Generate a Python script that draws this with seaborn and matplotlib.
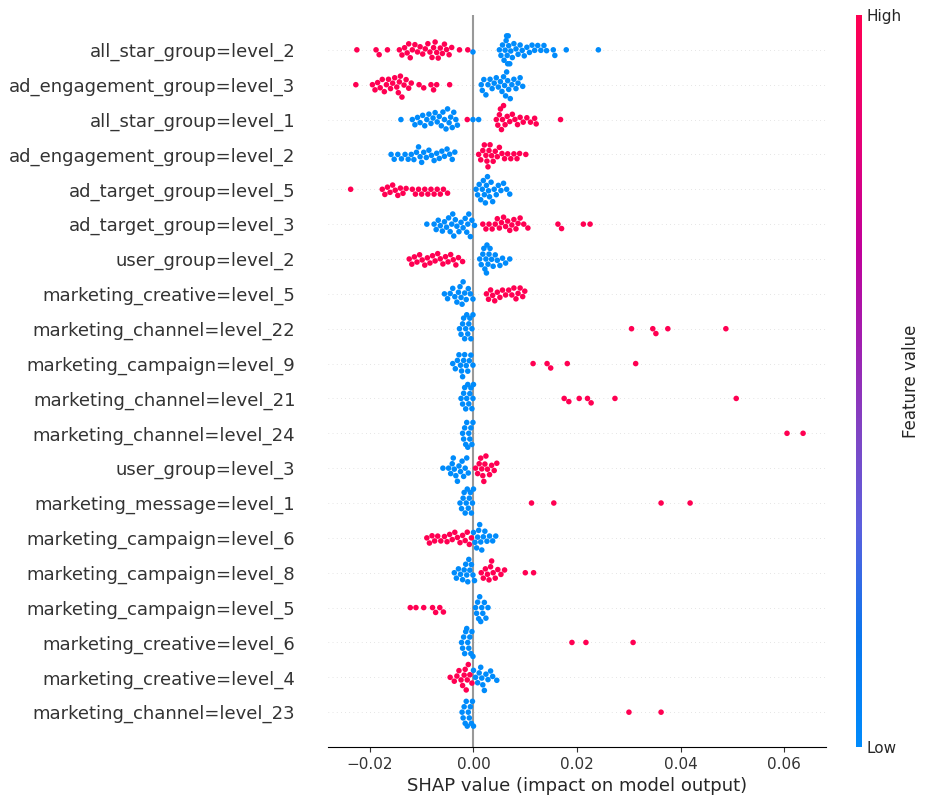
#!/usr/bin/env python3
"""SHAP-style beeswarm summary of one-hot feature impacts, drawn with seaborn."""

import matplotlib

matplotlib.use("Agg")

import matplotlib.pyplot as plt
import numpy as np
import pandas as pd
import seaborn as sns
from matplotlib.cm import ScalarMappable
from matplotlib.colors import LinearSegmentedColormap


BLUE = "#008bfb"
RED = "#ff0052"

FEATURES = [
    "all_star_group=level_2",
    "ad_engagement_group=level_3",
    "all_star_group=level_1",
    "ad_engagement_group=level_2",
    "ad_target_group=level_5",
    "ad_target_group=level_3",
    "user_group=level_2",
    "marketing_creative=level_5",
    "marketing_channel=level_22",
    "marketing_campaign=level_9",
    "marketing_channel=level_21",
    "marketing_channel=level_24",
    "user_group=level_3",
    "marketing_message=level_1",
    "marketing_campaign=level_6",
    "marketing_campaign=level_8",
    "marketing_campaign=level_5",
    "marketing_creative=level_6",
    "marketing_creative=level_4",
    "marketing_channel=level_23",
]

# SHAP values, split by feature value (high = 1, low = 0)
all_star_l2_high = [-0.0225, -0.0188, -0.0182, -0.0166, -0.0143, -0.0138, -0.0133, -0.0128,
                    -0.0125, -0.0122, -0.0118, -0.0113, -0.0108, -0.0103, -0.0098, -0.0093,
                    -0.0088, -0.0084, -0.0080, -0.0077, -0.0074, -0.0071, -0.0068, -0.0064,
                    -0.0060, -0.0056, -0.0052, -0.0047, -0.0042, -0.0027, -0.0011]
all_star_l2_low = [-0.0001, 0.0050, 0.0053, 0.0056, 0.0059, 0.0061, 0.0063, 0.0064, 0.0065,
                   0.0066, 0.0067, 0.0068, 0.0070, 0.0072, 0.0075, 0.0078, 0.0082, 0.0086,
                   0.0090, 0.0094, 0.0098, 0.0103, 0.0108, 0.0113, 0.0118, 0.0124, 0.0130,
                   0.0136, 0.0141, 0.0154, 0.0157, 0.0179, 0.0241]

ad_engage_l3_high = [-0.0227, -0.0195, -0.0190, -0.0185, -0.0180, -0.0176, -0.0172, -0.0168,
                     -0.0164, -0.0160, -0.0156, -0.0152, -0.0148, -0.0145, -0.0143, -0.0141,
                     -0.0138, -0.0134, -0.0130, -0.0125, -0.0120, -0.0105, -0.0096, -0.0082,
                     -0.0077, -0.0071, -0.0046]
ad_engage_l3_low = [0.0015, 0.0017, 0.0020, 0.0024, 0.0028, 0.0032, 0.0036, 0.0040, 0.0044,
                    0.0048, 0.0052, 0.0055, 0.0058, 0.0060, 0.0062, 0.0064, 0.0066, 0.0068,
                    0.0071, 0.0074, 0.0078, 0.0082, 0.0086, 0.0090, 0.0095]

all_star_l1_high = [-0.0012, 0.0044, 0.0047, 0.0050, 0.0052, 0.0054, 0.0056, 0.0058, 0.0061,
                    0.0065, 0.0070, 0.0075, 0.0080, 0.0085, 0.0090, 0.0096, 0.0103, 0.0110,
                    0.0118, 0.0121, 0.0168]
all_star_l1_low = [-0.0140, -0.0118, -0.0113, -0.0108, -0.0103, -0.0098, -0.0094, -0.0090,
                   -0.0086, -0.0082, -0.0078, -0.0074, -0.0070, -0.0066, -0.0062, -0.0059,
                   -0.0056, -0.0053, -0.0050, -0.0047, -0.0044, -0.0041, -0.0038, -0.0034,
                   -0.0031, -0.0001, 0.0010]

ad_engage_l2_high = [0.0010, 0.0014, 0.0018, 0.0021, 0.0024, 0.0026, 0.0028, 0.0030, 0.0032,
                     0.0035, 0.0038, 0.0042, 0.0046, 0.0050, 0.0055, 0.0060, 0.0066, 0.0072,
                     0.0078, 0.0084, 0.0089, 0.0101]
ad_engage_l2_low = [-0.0159, -0.0153, -0.0146, -0.0139, -0.0132, -0.0126, -0.0120, -0.0115,
                    -0.0110, -0.0106, -0.0103, -0.0100, -0.0096, -0.0091, -0.0086, -0.0081,
                    -0.0076, -0.0071, -0.0066, -0.0061, -0.0056, -0.0051, -0.0046, -0.0041,
                    -0.0036]

ad_target_l5_high = [-0.0237, -0.0176, -0.0171, -0.0166, -0.0161, -0.0156, -0.0151, -0.0146,
                     -0.0141, -0.0136, -0.0130, -0.0118, -0.0112, -0.0106, -0.0100, -0.0094,
                     -0.0088, -0.0082, -0.0076, -0.0070, -0.0064, -0.0058, -0.0050]
ad_target_l5_low = [0.0005, 0.0008, 0.0011, 0.0014, 0.0017, 0.0019, 0.0021, 0.0023, 0.0025,
                    0.0027, 0.0029, 0.0031, 0.0034, 0.0037, 0.0040, 0.0044, 0.0048, 0.0053,
                    0.0058, 0.0064, 0.0070]

ad_target_l3_high = [0.0018, 0.0024, 0.0030, 0.0036, 0.0042, 0.0046, 0.0050, 0.0054, 0.0058,
                     0.0062, 0.0066, 0.0070, 0.0074, 0.0078, 0.0082, 0.0086, 0.0090, 0.0097,
                     0.0105, 0.0163, 0.0170, 0.0212, 0.0225]
ad_target_l3_low = [-0.0090, -0.0076, -0.0072, -0.0068, -0.0064, -0.0060, -0.0056, -0.0052,
                    -0.0048, -0.0045, -0.0042, -0.0040, -0.0038, -0.0035, -0.0032, -0.0028,
                    -0.0024, -0.0020, -0.0016, -0.0013, -0.0011, -0.0009, -0.0006, -0.0003,
                    0.0002]

user_l2_high = [-0.0124, -0.0119, -0.0114, -0.0109, -0.0104, -0.0099, -0.0094, -0.0089,
                -0.0084, -0.0079, -0.0074, -0.0069, -0.0064, -0.0059, -0.0054, -0.0049,
                -0.0044, -0.0039, -0.0034, -0.0029, -0.0021]
user_l2_low = [0.0012, 0.0015, 0.0018, 0.0020, 0.0022, 0.0024, 0.0025, 0.0026, 0.0028, 0.0030,
               0.0032, 0.0035, 0.0038, 0.0042, 0.0046, 0.0051, 0.0056, 0.0062, 0.0070]

creative_l5_high = [0.0025, 0.0029, 0.0033, 0.0037, 0.0041, 0.0046, 0.0051, 0.0056, 0.0062,
                    0.0068, 0.0074, 0.0078, 0.0082, 0.0086, 0.0090, 0.0095, 0.0099]
creative_l5_low = [-0.0056, -0.0050, -0.0045, -0.0040, -0.0036, -0.0032, -0.0029, -0.0026,
                   -0.0024, -0.0022, -0.0020, -0.0017, -0.0014, -0.0010, -0.0006, -0.0001]

channel_l22_high = [0.0305, 0.0346, 0.0352, 0.0375, 0.0487]
channel_l22_low = [-0.0027, -0.0024, -0.0021, -0.0019, -0.0017, -0.0015, -0.0013, -0.0011,
                   -0.0009, -0.0007, -0.0005, -0.0003, -0.0001]

campaign_l9_high = [0.0115, 0.0142, 0.0149, 0.0181, 0.0313]
campaign_l9_low = [-0.0040, -0.0035, -0.0031, -0.0028, -0.0025, -0.0023, -0.0021, -0.0019,
                   -0.0017, -0.0014, -0.0011, -0.0008, -0.0005, -0.0001]

channel_l21_high = [0.0175, 0.0184, 0.0204, 0.0220, 0.0227, 0.0273, 0.0507]
channel_l21_low = [-0.0024, -0.0021, -0.0019, -0.0017, -0.0015, -0.0013, -0.0011, -0.0009,
                   -0.0007, -0.0005, -0.0003, -0.0001, 0.0000]

channel_l24_high = [0.0605, 0.0636]
channel_l24_low = [-0.0021, -0.0019, -0.0017, -0.0015, -0.0013, -0.0011, -0.0009, -0.0007,
                   -0.0005, -0.0003, -0.0001]

user_l3_high = [0.0004, 0.0008, 0.0011, 0.0014, 0.0016, 0.0018, 0.0020, 0.0022, 0.0024,
                0.0027, 0.0031, 0.0035, 0.0040, 0.0045]
user_l3_low = [-0.0059, -0.0048, -0.0044, -0.0041, -0.0039, -0.0037, -0.0034, -0.0031,
               -0.0028, -0.0025, -0.0022, -0.0019, -0.0016, -0.0013, -0.0010]

message_l1_high = [0.0112, 0.0155, 0.0362, 0.0418]
message_l1_low = [-0.0026, -0.0023, -0.0020, -0.0018, -0.0016, -0.0014, -0.0012, -0.0010,
                  -0.0008, -0.0006, -0.0004, -0.0002, 0.0000]

campaign_l6_high = [-0.0090, -0.0085, -0.0080, -0.0075, -0.0069, -0.0063, -0.0056, -0.0051,
                    -0.0046, -0.0041, -0.0036, -0.0031, -0.0026, -0.0021, -0.0016, -0.0012,
                    -0.0008, -0.0004]
campaign_l6_low = [0.0000, 0.0003, 0.0006, 0.0008, 0.0010, 0.0012, 0.0014, 0.0016, 0.0019,
                   0.0022, 0.0026, 0.0031, 0.0037, 0.0043]

campaign_l8_high = [0.0015, 0.0019, 0.0023, 0.0027, 0.0030, 0.0033, 0.0035, 0.0038, 0.0042,
                    0.0047, 0.0053, 0.0060, 0.0100, 0.0116]
campaign_l8_low = [-0.0037, -0.0033, -0.0029, -0.0025, -0.0021, -0.0018, -0.0015, -0.0013,
                   -0.0011, -0.0009, -0.0007, -0.0004, -0.0001, 0.0002]

campaign_l5_high = [-0.0122, -0.0111, -0.0096, -0.0079, -0.0073, -0.0065, -0.0058]
campaign_l5_low = [0.0004, 0.0006, 0.0008, 0.0010, 0.0012, 0.0014, 0.0016, 0.0018, 0.0021,
                   0.0024, 0.0028]

creative_l6_high = [0.0190, 0.0217, 0.0308]
creative_l6_low = [-0.0023, -0.0021, -0.0019, -0.0017, -0.0015, -0.0013, -0.0011, -0.0009,
                   -0.0007, -0.0005, -0.0003, -0.0001]

creative_l4_high = [-0.0045, -0.0037, -0.0032, -0.0028, -0.0024, -0.0021, -0.0018, -0.0016,
                    -0.0014, -0.0012, -0.0010, -0.0007, -0.0003]
creative_l4_low = [0.0000, 0.0004, 0.0008, 0.0011, 0.0014, 0.0016, 0.0018, 0.0021, 0.0024,
                   0.0028, 0.0033, 0.0037, 0.0045]

channel_l23_high = [0.0300, 0.0362]
channel_l23_low = [-0.0022, -0.0020, -0.0018, -0.0016, -0.0014, -0.0012, -0.0010, -0.0008,
                   -0.0006, -0.0004, -0.0002, 0.0000]

HIGH = [
    all_star_l2_high, ad_engage_l3_high, all_star_l1_high, ad_engage_l2_high,
    ad_target_l5_high, ad_target_l3_high, user_l2_high, creative_l5_high,
    channel_l22_high, campaign_l9_high, channel_l21_high, channel_l24_high,
    user_l3_high, message_l1_high, campaign_l6_high, campaign_l8_high,
    campaign_l5_high, creative_l6_high, creative_l4_high, channel_l23_high,
]
LOW = [
    all_star_l2_low, ad_engage_l3_low, all_star_l1_low, ad_engage_l2_low,
    ad_target_l5_low, ad_target_l3_low, user_l2_low, creative_l5_low,
    channel_l22_low, campaign_l9_low, channel_l21_low, channel_l24_low,
    user_l3_low, message_l1_low, campaign_l6_low, campaign_l8_low,
    campaign_l5_low, creative_l6_low, creative_l4_low, channel_l23_low,
]

# shap's red-blue map, approximated through its purple middle
CMAP_STOPS = [
    (0.00, "#008bfb"), (0.15, "#0a76ee"), (0.30, "#5b5fdd"), (0.42, "#7d47c5"),
    (0.55, "#a01fb0"), (0.68, "#c0009a"), (0.82, "#e3007a"), (1.00, "#ff0052"),
]


def build_frame() -> pd.DataFrame:
    rows = []
    for feat, high, low in zip(FEATURES, HIGH, LOW):
        for v in low:
            rows.append({"feature": feat, "shap": v, "level": "Low"})
        for v in high:
            rows.append({"feature": feat, "shap": v, "level": "High"})
    return pd.DataFrame(rows)


def main() -> None:
    sns.set_style("white")
    plt.rcParams["font.family"] = ["DejaVu Sans"]

    df = build_frame()

    fig = plt.figure(figsize=(9.29, 8.05), dpi=100)
    ax = fig.add_axes([0.3531, 0.0720, 0.5357, 0.9094])

    for i in range(len(FEATURES)):
        ax.axhline(i, color="#cccccc", lw=0.5, dashes=(1, 5), zorder=-1)
    ax.axvline(0, color="#999999", zorder=-1)

    sns.swarmplot(
        data=df,
        x="shap",
        y="feature",
        hue="level",
        order=FEATURES,
        hue_order=["Low", "High"],
        palette={"Low": BLUE, "High": RED},
        size=4,
        linewidth=0,
        orient="h",
        legend=False,
        ax=ax,
    )

    lo, hi = df["shap"].min(), df["shap"].max()
    pad = 0.05 * (hi - lo)
    ax.set_xlim(lo - pad, hi + pad)
    ax.set_ylim(len(FEATURES), -1)
    ax.set_xticks(np.arange(-0.02, 0.061, 0.02))

    for side in ("top", "right", "left"):
        ax.spines[side].set_visible(False)
    ax.spines["bottom"].set_color("#000000")
    ax.spines["bottom"].set_linewidth(0.8)

    ax.tick_params("y", length=0, pad=23.5, labelsize=13, labelcolor="#333333")
    ax.tick_params("x", length=3.5, width=0.8, color="#333333", labelsize=11,
                   labelcolor="#333333", bottom=True)
    ax.set_ylabel("")
    ax.set_xlabel("SHAP value (impact on model output)", fontsize=13)

    cmap = LinearSegmentedColormap.from_list("shap_red_blue", CMAP_STOPS)
    cax = fig.add_axes([856 / 929, 1 - 747 / 805, 6 / 929, 732 / 805])
    cb = fig.colorbar(ScalarMappable(cmap=cmap), cax=cax, ticks=[0, 1])
    cb.set_ticklabels(["Low", "High"])
    cb.ax.tick_params(labelsize=11, length=0)
    cb.set_label("Feature value", size=12, labelpad=0)
    cb.outline.set_visible(False)

    fig.savefig("out.png", dpi=100)
    plt.close(fig)


if __name__ == "__main__":
    main()
